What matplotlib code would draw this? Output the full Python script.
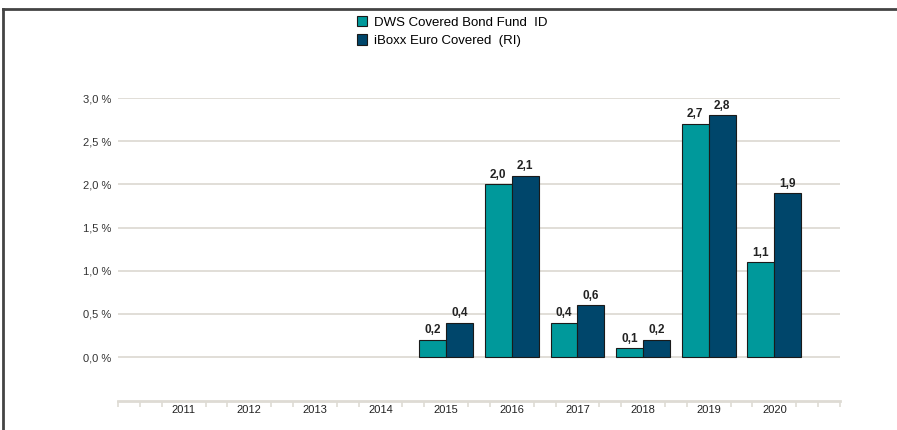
import numpy as np
import matplotlib
matplotlib.use("Agg")
import matplotlib.pyplot as plt
from matplotlib.lines import Line2D
from matplotlib.patches import Patch

plt.rcParams['font.family'] = ['Liberation Sans', 'DejaVu Sans']

### chart data
years = [2011, 2012, 2013, 2014, 2015, 2016, 2017, 2018, 2019, 2020]
fund = [np.nan, np.nan, np.nan, np.nan, 0.2, 2.0, 0.4, 0.1, 2.7, 1.1]
index = [np.nan, np.nan, np.nan, np.nan, 0.4, 2.1, 0.6, 0.2, 2.8, 1.9]
yticks = [0.0, 0.5, 1.0, 1.5, 2.0, 2.5, 3.0]
names = ["DWS Covered Bond Fund  ID", "iBoxx Euro Covered  (RI)"]

teal = "#00999b"
navy = "#00466b"
grid_c = "#dedbd4"
text_c = "#222222"

fig = plt.figure(figsize=(8.97, 4.30), dpi=100)
ax = fig.add_axes([118/897, 29/430, 722/897, 303/430])

x = np.array(years, dtype=float)
w = 0.41
b1 = ax.bar(x - w/2, fund, w, color=teal, edgecolor="#1a1a1a", linewidth=0.8, zorder=3)
b2 = ax.bar(x + w/2, index, w, color=navy, edgecolor="#1a1a1a", linewidth=0.8, zorder=3)

def lab(v):
    return "" if np.isnan(v) else f"{v:.1f}".replace(".", ",")

for bars, vals in ((b1, fund), (b2, index)):
    for r, v in zip(bars, vals):
        if np.isnan(v):
            continue
        ax.text(r.get_x() + r.get_width()/2, v + 0.04, lab(v), ha="center", va="bottom",
                fontsize=8.5, fontweight="bold", color=text_c)

# grid lines only between 0 and 3
for t in yticks:
    ax.axhline(t, color=grid_c, linewidth=1.3, zorder=1)

ax.set_xlim(2010, 2021)
ax.set_ylim(-0.509, 3.0)
ax.set_yticks(yticks)
ax.set_yticklabels([f"{t:.1f} %".replace(".", ",") for t in yticks], fontsize=8, color="#333333")
ax.tick_params(axis="y", length=0, pad=5)

# bottom axis with ticks every third of a year
ax.set_xticks(years)
ax.set_xticklabels([str(y) for y in years], fontsize=8, color=text_c)
ax.tick_params(axis="x", length=0, pad=3)
minor = [2010 + k/3 for k in range(34) if k % 3 != 0] + [2010, 2021]
ax.set_xticks(minor, minor=True)
ax.tick_params(axis="x", which="minor", length=4, width=1.2, color=grid_c, direction="out")

for s in ["top", "right", "left"]:
    ax.spines[s].set_visible(False)
ax.spines["bottom"].set_color(grid_c)
ax.spines["bottom"].set_linewidth(2)

# legend
handles = [Patch(facecolor=teal, edgecolor="#1a1a1a", linewidth=0.8),
           Patch(facecolor=navy, edgecolor="#1a1a1a", linewidth=0.8)]
fig.legend(handles, names, loc="upper left", bbox_to_anchor=(345/897, 1 - 4/430),
           frameon=False, fontsize=9.5, handlelength=0.8, handleheight=0.8,
           handletextpad=0.5, labelspacing=0.45)

# frame lines top and left
fig.add_artist(Line2D([3/897, 1], [1 - 9/430, 1 - 9/430], color="#444444", linewidth=2))
fig.add_artist(Line2D([3/897, 3/897], [0, 1 - 9/430], color="#444444", linewidth=2))

fig.savefig("out.png", dpi=100)
